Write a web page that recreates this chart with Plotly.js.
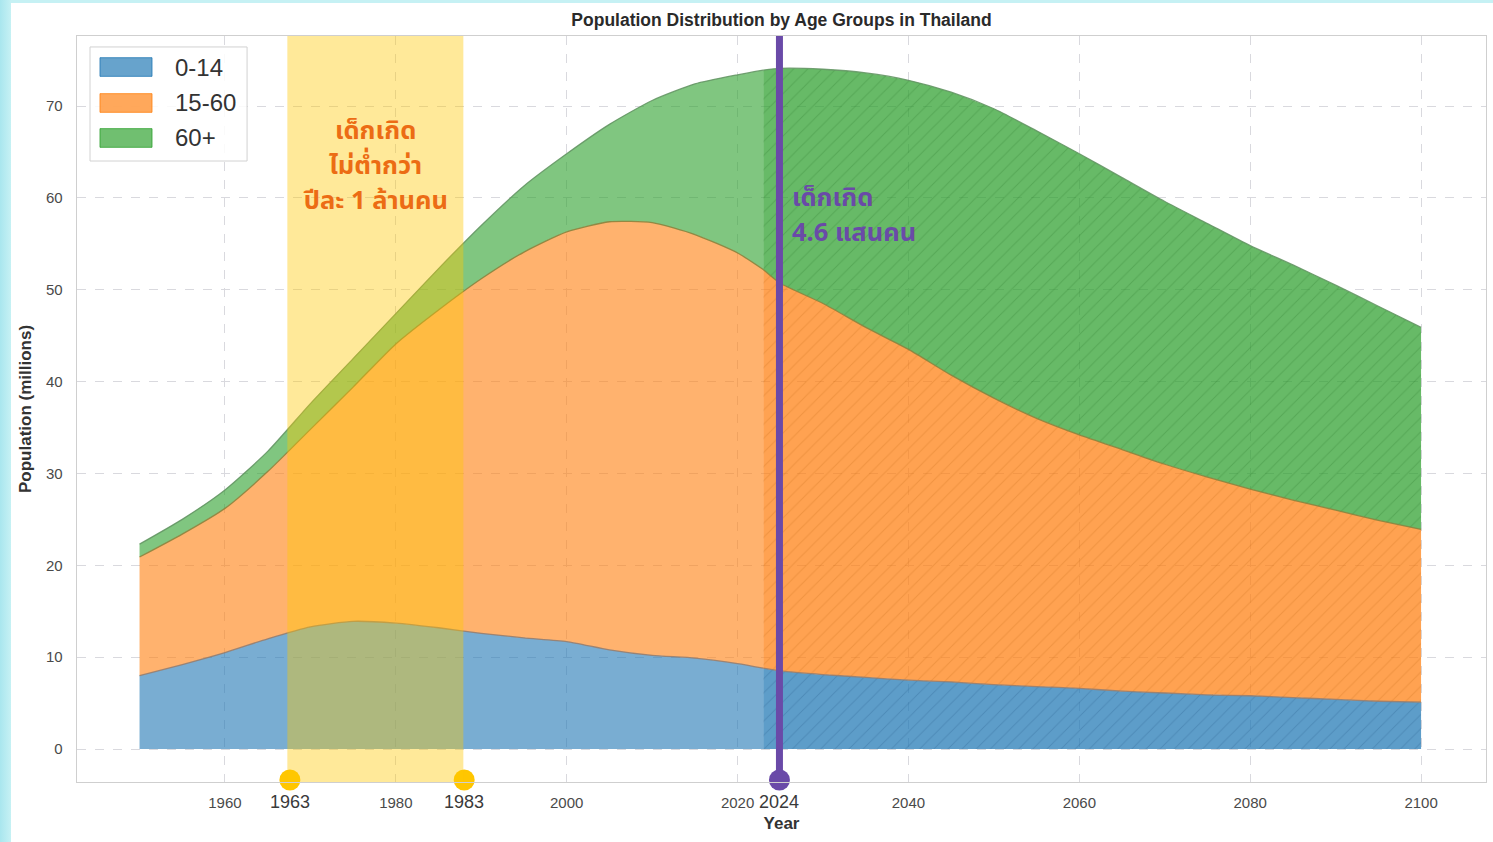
<!DOCTYPE html>
<html>
<head>
<meta charset="utf-8">
<script src="https://cdn.plot.ly/plotly-3.0.1.min.js"></script>
<style>
  html, body { margin: 0; padding: 0; width: 1493px; height: 842px; overflow: hidden;
    background: linear-gradient(90deg, #a9e6ee 0px, #c6f1f4 11px); }
  #chart { position: absolute; left: 11px; top: 3px; width: 1482px; height: 839px; background: #fff; }
</style>
</head>
<body>
<div id="chart"></div>
<script>
// ---- data (millions) ----
const yearsHist = [1950,1955,1960,1965,1970,1975,1980,1985,1990,1995,2000,2005,2010,2015,2020,2023];
const age0to14Hist = [8.0,9.2,10.5,12.0,13.3,13.9,13.7,13.2,12.6,12.1,11.7,10.8,10.2,9.9,9.3,8.8];
const age15to60Hist = [12.9,14.2,15.7,18.2,21.5,25.5,30.4,34.6,38.6,42.0,44.6,46.6,47.1,46.1,44.7,43.4];
const age60plusHist = [1.4,1.6,2.0,2.2,2.8,3.1,3.3,4.5,5.8,7.2,8.5,10.6,13.3,16.4,19.4,21.7];

const yearsProj = [2023,2025,2030,2035,2040,2045,2050,2055,2060,2065,2070,2075,2080,2085,2090,2095,2100];
const age0to14Proj = [8.8,8.5,8.1,7.8,7.5,7.3,7.0,6.8,6.6,6.3,6.1,5.9,5.8,5.6,5.4,5.2,5.1];
const age15to60Proj = [43.4,42.2,40.4,38.1,36.0,33.4,31.2,29.2,27.6,26.3,24.9,23.7,22.5,21.5,20.6,19.7,18.8];
const age60plusProj = [21.7,23.4,25.5,27.7,29.3,30.8,31.5,31.3,30.6,29.6,28.6,27.6,26.5,25.6,24.5,23.3,22.0];

const groupNames = ['0-14','15-60','60+'];
const xTicks = [1960,1980,2000,2020,2040,2060,2080,2100];
const yTicks = [0,10,20,30,40,50,60,70];

// highlight markers (positions on the axis) and their labels
const bandYears = [1967.3, 1987.9];
const markerYears = [1967.6, 1988.0, 2024.9];
const markerLabels = ['1963','1983','2024'];

// callout texts
const orangeLines = ['เด็กเกิด','ไม่ต่ำกว่า','ปีละ 1 ล้านคน'];
const purpleLines = ['เด็กเกิด','4.6 แสนคน'];

const xRange = [1942.68, 2107.6];
const yRange = [-3.59, 77.62];
const markerY = -3.37;

const baseRGB = ['31,119,180','255,127,14','44,160,44'];
const edgeColors = ['rgba(150,125,110,0.9)','rgba(140,130,60,0.9)','rgba(100,150,100,0.9)'];
const hatchColors = ['rgba(20,70,120,0.22)','rgba(170,80,0,0.18)','rgba(20,100,20,0.2)'];

const histVals = [age0to14Hist, age15to60Hist, age60plusHist];
const projVals = [age0to14Proj, age15to60Proj, age60plusProj];

const traces = [];
histVals.forEach((v,i) => {
  traces.push({
    type:'scatter', mode:'lines', x: yearsHist, y: v, name: groupNames[i], showlegend:false,
    stackgroup:'hist', line:{color: edgeColors[i], width:1.3, shape:'spline', smoothing:0.6},
    fillcolor:'rgba('+baseRGB[i]+',0.6)', hoverinfo:'skip'
  });
});
projVals.forEach((v,i) => {
  traces.push({
    type:'scatter', mode:'lines', x: yearsProj, y: v, name: groupNames[i], showlegend:false,
    stackgroup:'proj', line:{color: edgeColors[i], width:1.3, shape:'spline', smoothing:0.6},
    fillcolor:'rgba('+baseRGB[i]+',0.72)',
    fillpattern:{shape:'/', bgcolor:'rgba('+baseRGB[i]+',0.72)', fgcolor: hatchColors[i], size:10, solidity:0.1},
    hoverinfo:'skip'
  });
});
traces.push({
  type:'scatter', mode:'markers', x: markerYears, y: markerYears.map(() => markerY),
  marker:{size:21, color:['#FFC600','#FFC600','#6A4AA8']}, cliponaxis:false, showlegend:false, hoverinfo:'skip'
});

const annotations = markerYears.map((yr, i) => ({
  x: yr, xref:'x', y: -0.027, yref:'paper', text: markerLabels[i], showarrow:false,
  font:{family:'Liberation Sans, Arial, sans-serif', size:18, color:'#3a3a3a'}, xanchor:'center', yanchor:'middle'
}));
const thaiFont = 'Noto Sans Thai, Noto Sans, sans-serif';
orangeLines.forEach((t, i) => annotations.push({
  x: 1977.56, xref:'x', y: 67.28 - i*3.81, yref:'y', showarrow:false, xanchor:'center', yanchor:'middle',
  borderpad:0, text:'<b>'+t+'</b>', font:{family:thaiFont, size:25.5, color:'#EC6C14'}
}));
purpleLines.forEach((t, i) => annotations.push({
  x: 2026.2, xref:'x', y: 59.98 - i*3.81, yref:'y', showarrow:false, xanchor:'left', yanchor:'middle',
  borderpad:0, text:'<b>'+t+'</b>', font:{family:thaiFont, size:25.5, color:'#6A4AA8'}
}));

// custom legend (box, swatches, labels) in paper coordinates
const shapes = [
  {type:'rect', xref:'x', yref:'paper', x0:bandYears[0], x1:bandYears[1], y0:0, y1:1,
    fillcolor:'rgba(255,200,0,0.4)', line:{width:0}, layer:'above'},
  {type:'line', xref:'x', yref:'y', x0:markerYears[2], x1:markerYears[2], y0:markerY, y1:yRange[1],
    line:{color:'#6A4AA8', width:7}, layer:'above'},
  {type:'rect', xref:'paper', yref:'paper', x0:0.00923, x1:0.1207, y0:0.8324, y1:0.9853,
    fillcolor:'rgba(255,255,255,0.85)', line:{color:'#d2d2d2', width:1}, layer:'above'}
];
const legendY = [0.9584, 0.9102, 0.8633];
groupNames.forEach((name, i) => {
  shapes.push({type:'rect', xref:'paper', yref:'paper', x0:0.01632, x1:0.05323,
    y0:legendY[i]-0.0125, y1:legendY[i]+0.0125,
    fillcolor:'rgba('+baseRGB[i]+',0.68)', line:{color:'rgba('+baseRGB[i]+',0.8)', width:1}, layer:'above'});
  annotations.push({x:0.0681, xref:'paper', y:legendY[i], yref:'paper', xanchor:'left', yanchor:'middle',
    showarrow:false, text:name, font:{family:'Liberation Sans, Arial, sans-serif', size:24, color:'#333'}});
});

const layout = {
  width:1482, height:839,
  margin:{l:66, r:7, t:33, b:60},
  paper_bgcolor:'#ffffff', plot_bgcolor:'#ffffff',
  font:{family:'Liberation Sans, Arial, sans-serif', color:'#444'},
  title:{text:'<b>Population Distribution by Age Groups in Thailand</b>', x:0.5, xref:'paper',
    y: 1 - 17/839, yref:'container', yanchor:'middle',
    font:{family:'Liberation Sans, Arial, sans-serif', size:17.5, color:'#2a2a2a'}},
  xaxis:{range:xRange, tickvals:xTicks, showgrid:true, gridcolor:'#d9d9de', griddash:'dash', gridwidth:1,
    zeroline:false, showline:true, linecolor:'#cfcfcf', linewidth:1.3, mirror:true,
    ticks:'', ticklabelstandoff:7, tickfont:{size:15, color:'#4a4a4a'},
    title:{text:'<b>Year</b>', font:{size:17, color:'#333'}, standoff:6}},
  yaxis:{range:yRange, tickvals:yTicks, showgrid:true, gridcolor:'#d9d9de', griddash:'dash', gridwidth:1,
    zeroline:false, showline:true, linecolor:'#cfcfcf', linewidth:1.3, mirror:true,
    ticks:'', ticklabelstandoff:10, tickfont:{size:15, color:'#4a4a4a'},
    title:{text:'<b>Population (millions)</b>', font:{size:17, color:'#333'}, standoff:10}},
  shapes: shapes,
  annotations: annotations,
  showlegend:false
};

Plotly.newPlot('chart', traces, layout, {staticPlot:true, displayModeBar:false});
</script>
</body>
</html>
